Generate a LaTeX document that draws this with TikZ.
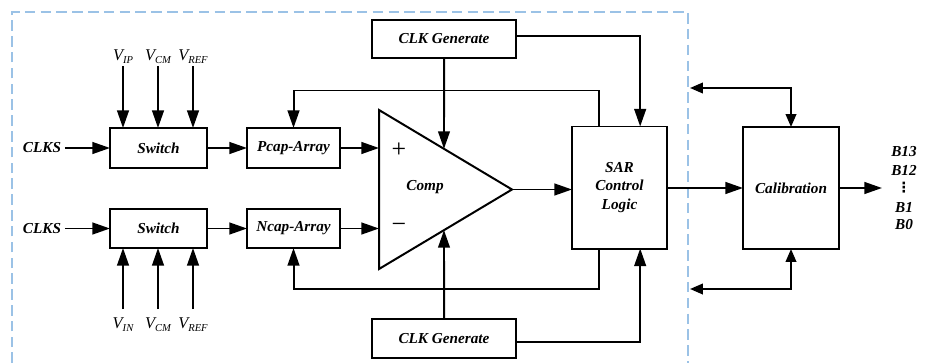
\documentclass[tikz,border=0pt]{standalone}
\usepackage{fontspec}
\setmainfont{Liberation Serif}
\newfontfamily\symfont{DejaVu Sans}
\usetikzlibrary{arrows.meta,calc}
\definecolor{framecol}{RGB}{155,194,230}
\newcommand{\vsig}[1]{V\raisebox{-0.4ex}{\fontsize{9}{9}\selectfont #1}}
\tikzset{
  blk/.style={draw,line width=1.7pt,inner sep=0pt,outer sep=0pt,align=center,
    font=\fontsize{13}{15.5}\selectfont\bfseries\itshape},
  txt/.style={inner sep=3pt,font=\fontsize{13}{15}\selectfont\bfseries\itshape},
  bits/.style={inner sep=0pt,font=\fontsize{13}{15}\selectfont\bfseries\itshape},
  vlab/.style={inner sep=2pt,font=\fontsize{14}{16}\selectfont\itshape},
  sgn/.style={inner sep=0pt,font=\fontsize{22}{22}\selectfont},
  wire/.style={line width=1.7pt},
  sig/.style={line width=1.7pt,-{Triangle[length=15pt,width=10pt]}},
  bus/.style={line width=1.7pt,{Triangle[length=11pt,width=9pt]}-{Triangle[length=11pt,width=9pt]}},
  frame/.style={framecol,line width=0.9pt,dash pattern=on 9pt off 4.5pt}
}
\begin{document}
\begin{tikzpicture}[x=0.03cm,y=-0.03cm]
  \useasboundingbox (0,0) rectangle (928,363);
  \draw[frame] (12,363) -- (12,12) -- (688,12) -- (688,363);

  \node[blk,minimum width=2.91cm,minimum height=1.2cm] (swp) at (158.5,148) {Switch};
  \node[blk,minimum width=2.79cm,minimum height=1.2cm] (pcap) at (293.5,148) {Pcap-Array};
  \node[blk,minimum width=2.91cm,minimum height=1.17cm] (swn) at (158.5,228.5) {Switch};
  \node[blk,minimum width=2.79cm,minimum height=1.17cm] (ncap) at (293.5,228.5) {Ncap-Array};
  \node[blk,minimum width=4.32cm,minimum height=1.14cm] (clkt) at (444,39) {CLK Generate};
  \node[blk,minimum width=4.32cm,minimum height=1.17cm] (clkb) at (444,338.5) {CLK Generate};
  \node[blk,minimum width=2.85cm,minimum height=3.66cm] (sar) at (619.5,187.5) {SAR\\Control\\Logic};
  \node[blk,minimum width=2.88cm,minimum height=3.66cm] (cal) at (791,188) {Calibration};

  \coordinate (ta) at (379,110);
  \coordinate (tb) at (379,269);
  \coordinate (tc) at (512,189.5);
  \draw[wire,line join=miter] (ta) -- (tc) -- (tb) -- cycle;
  \node[txt] (comp) at (425,187) {Comp};
  \node[sgn] (plus) at (399,150) {+};
  \node[sgn] (minus) at (399,228) {−};

  \node[txt] (clksp) at (42,148) {CLKS};
  \node[txt] (clksn) at (42,228.5) {CLKS};
  \draw[sig] (clksp) -- (swp);
  \draw[sig] (clksn) -- (swn);

  \node[vlab,anchor=south] (vip) at (123,66) {\vsig{IP}};
  \node[vlab,anchor=south] (vcmp) at (158,66) {\vsig{CM}};
  \node[vlab,anchor=south] (vrefp) at (193,66) {\vsig{REF}};
  \draw[sig] (vip.south) -- (vip.south |- swp.north);
  \draw[sig] (vcmp.south) -- (vcmp.south |- swp.north);
  \draw[sig] (vrefp.south) -- (vrefp.south |- swp.north);

  \node[vlab,anchor=north] (vin) at (123,315) {\vsig{IN}};
  \node[vlab,anchor=north] (vcmn) at (158,315) {\vsig{CM}};
  \node[vlab,anchor=north] (vrefn) at (193,315) {\vsig{REF}};
  \draw[sig] ([yshift=0.18cm]vin.north) -- (vin.north |- swn.south);
  \draw[sig] ([yshift=0.18cm]vcmn.north) -- (vcmn.north |- swn.south);
  \draw[sig] ([yshift=0.18cm]vrefn.north) -- (vrefn.north |- swn.south);

  \draw[sig] (swp) -- (pcap);
  \draw[sig] (swn) -- (ncap);
  \draw[sig] (pcap.east) -- (pcap.east -| ta);
  \draw[sig] (ncap.east) -- (ncap.east -| ta);
  \draw[sig] (tc) -- (tc -| sar.west);

  \draw[sig] ([xshift=-0.62cm]sar.north) -- ++(0,-36) -| (pcap.north);
  \draw[sig] ([xshift=-0.62cm]sar.south) -- ++(0,40) -| (ncap.south);

  \coordinate (cu) at ($(ta)!0.4887!(tc)$);
  \coordinate (cl) at ($(tb)!0.4887!(tc)$);
  \draw[sig] (clkt.south) -- (cu);
  \draw[sig] (clkb.north) -- (cl);
  \draw[sig] ([yshift=0.1cm]clkt.east) -| ([xshift=0.62cm]sar.north);
  \draw[sig] ([yshift=-0.1cm]clkb.east) -| ([xshift=0.62cm]sar.south);

  \draw[sig] (sar.east |- cal.west) -- (cal.west);
  \coordinate (ctop) at (690,88);
  \coordinate (cbot) at (690,289);
  \draw[bus] (ctop) -| (cal.north);
  \draw[bus] (cbot) -| (cal.south);
  \coordinate (bout) at (882,188);
  \draw[sig] (cal.east) -- (bout);

  \node[bits] (b13) at (904,152) {B13};
  \node[bits] (b12) at (904,170) {B12};
  \node[bits,font=\fontsize{12}{12}\selectfont\symfont\bfseries] (bdots) at (904,188) {⋮};
  \node[bits] (b1) at (904,207) {B1};
  \node[bits] (b0) at (904,225) {B0};
\end{tikzpicture}
\end{document}
